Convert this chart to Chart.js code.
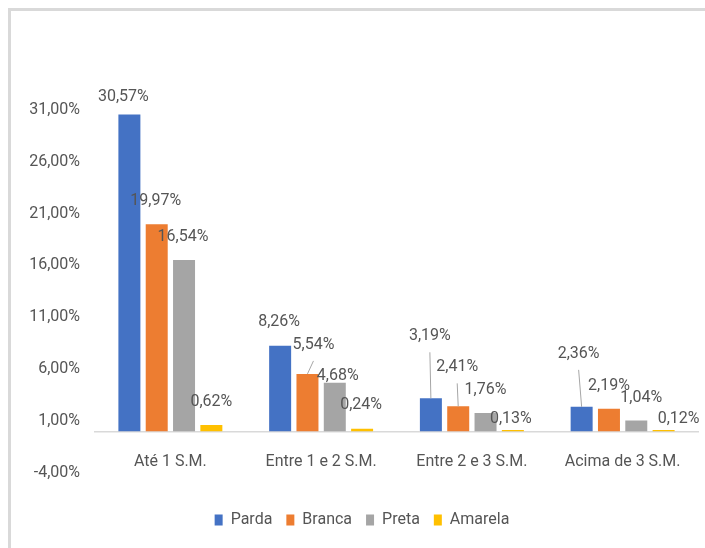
<!DOCTYPE html>
<html>
<head>
<meta charset="utf-8">
<script src="https://cdn.jsdelivr.net/npm/chart.js@4"></script>
<style>
  html, body { margin: 0; padding: 0; background: #fff; }
</style>
</head>
<body>
<canvas id="rendaChart" width="705" height="548"></canvas>
<script>
const categories = ['Até 1 S.M.', 'Entre 1 e 2 S.M.', 'Entre 2 e 3 S.M.', 'Acima de 3 S.M.'];
const seriesNames = ['Parda', 'Branca', 'Preta', 'Amarela'];
const parda = [30.57, 8.26, 3.19, 2.36];
const branca = [19.97, 5.54, 2.41, 2.19];
const preta = [16.54, 4.68, 1.76, 1.04];
const amarela = [0.62, 0.24, 0.13, 0.12];
const tickValues = [-4, 1, 6, 11, 16, 21, 26, 31];

const colors = ['#4472C4', '#ED7D31', '#A5A5A5', '#FFC000'];
const fontFamily = 'Roboto, sans-serif';
const fontSize = 16;
const textColor = '#555555';

// label nudges [dx, dy above bar top], per series / category (labels were moved by hand in the original)
const labelNudges = [
    [[-6, 17], [-1, 24], [-1, 62], [-3, 53]],
    [[-1, 23], [6, 29], [-1, 39], [0, 23]],
    [[-1, 23], [3, 7], [0, 23], [5, 23]],
    [[0, 23], [-1, 24], [-2, 11], [15, 11]]
];
const leaderLines = [
    [false, false, true, true],
    [false, true, true, false],
    [false, false, false, false],
    [false, false, false, false]
];

const fmt = v => v.toFixed(2).replace('.', ',') + '%';

const frame = {
    id: 'frame',
    beforeDraw(chart) {
        const ctx = chart.ctx;
        ctx.save();
        ctx.strokeStyle = '#d9d9d9';
        ctx.lineWidth = 3;
        ctx.beginPath();
        ctx.moveTo(9.5, 560);
        ctx.lineTo(9.5, 9.5);
        ctx.lineTo(720, 9.5);
        ctx.stroke();
        ctx.restore();
    }
};

const barLabels = {
    id: 'barLabels',
    afterDatasetsDraw(chart) {
        const ctx = chart.ctx;
        ctx.save();
        ctx.font = fontSize + 'px ' + fontFamily;
        ctx.fillStyle = textColor;
        ctx.textAlign = 'center';
        ctx.textBaseline = 'middle';
        chart.data.datasets.forEach((ds, i) => {
            chart.getDatasetMeta(i).data.forEach((bar, j) => {
                const [dx, dy] = labelNudges[i][j];
                const lx = bar.x + dx;
                const ly = bar.y - dy;
                if (leaderLines[i][j]) {
                    ctx.strokeStyle = '#a6a6a6';
                    ctx.lineWidth = 1;
                    ctx.beginPath();
                    ctx.moveTo(bar.x, bar.y);
                    ctx.lineTo(lx, ly + 16);
                    ctx.stroke();
                }
                ctx.fillText(fmt(ds.data[j]), lx, ly);
            });
        });
        ctx.restore();
    }
};

const seriesValues = [parda, branca, preta, amarela];

new Chart(document.getElementById('rendaChart'), {
    type: 'bar',
    data: {
        labels: categories,
        datasets: seriesValues.map((vals, i) => ({
            label: seriesNames[i],
            data: vals,
            backgroundColor: colors[i],
            categoryPercentage: 0.725,
            barPercentage: 0.805
        }))
    },
    options: {
        responsive: false,
        animation: false,
        layout: {
            padding: { top: 110, left: 26, right: 7, bottom: 10 }
        },
        scales: {
            x: {
                position: { y: 0 },
                grid: { display: false, drawTicks: false },
                border: { display: true, color: '#d9d9d9', width: 1.5 },
                ticks: {
                    color: textColor,
                    font: { family: fontFamily, size: fontSize },
                    padding: 21,
                    maxRotation: 0,
                    autoSkip: false
                }
            },
            y: {
                min: -4,
                max: 31,
                afterFit: s => { s.width = 69; },
                afterBuildTicks: s => { s.ticks = tickValues.map(v => ({ value: v })); },
                grid: { display: false, drawTicks: false },
                border: { display: false },
                ticks: {
                    color: textColor,
                    font: { family: fontFamily, size: fontSize },
                    padding: 15,
                    callback: v => fmt(v)
                }
            }
        },
        plugins: {
            legend: {
                position: 'bottom',
                // empty title only opens the gap between plot and legend
                title: { display: true, text: '', font: { size: 1 }, padding: { top: 24, bottom: 0 } },
                labels: {
                    color: textColor,
                    font: { family: fontFamily, size: fontSize },
                    boxWidth: 8,
                    boxHeight: 11,
                    padding: 14
                }
            },
            tooltip: { enabled: false }
        }
    },
    plugins: [frame, barLabels]
});
</script>
</body>
</html>
